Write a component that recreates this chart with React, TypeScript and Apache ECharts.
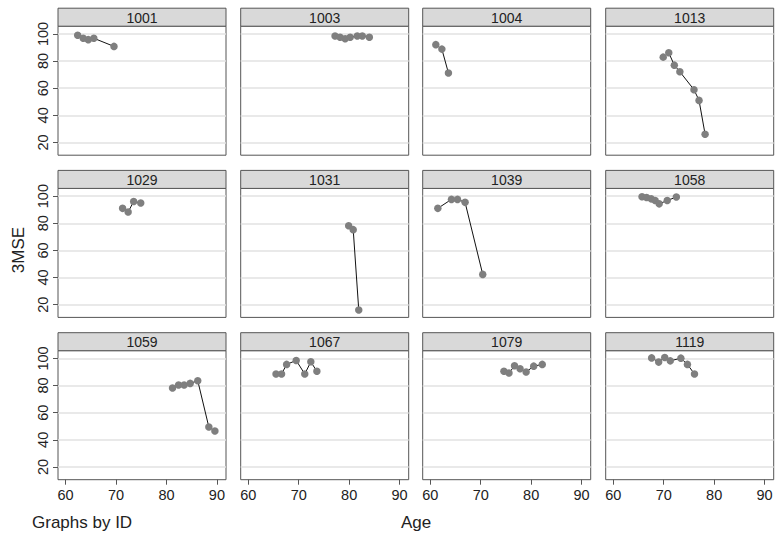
import React, { useEffect, useRef } from "react";
import * as echarts from "echarts";

const ids = ["1001", "1003", "1004", "1013", "1029", "1031", "1039", "1058", "1059", "1067", "1079", "1119"];

const age1001 = [62.4, 63.5, 64.5, 65.6, 69.6];
const mse1001 = [99, 96.8, 95.8, 96.8, 90.8];
const age1003 = [77.2, 78.2, 79.2, 80.2, 81.6, 82.6, 84];
const mse1003 = [98.5, 97.5, 96.5, 97.5, 98.5, 98.5, 97.5];
const age1004 = [61.1, 62.3, 63.6];
const mse1004 = [92.1, 88.8, 71.2];
const age1013 = [69.9, 71.0, 72.1, 73.2, 76.0, 77.0, 78.2];
const mse1013 = [82.9, 86.1, 77.0, 72.1, 58.9, 51.0, 26.1];
const age1029 = [71.3, 72.4, 73.5, 74.9];
const mse1029 = [91.0, 88.3, 96.1, 94.9];
const age1031 = [79.9, 80.8, 81.9];
const mse1031 = [78.2, 75.3, 16.1];
const age1039 = [61.5, 64.2, 65.4, 66.9, 70.4];
const mse1039 = [91.0, 97.6, 97.6, 95.4, 42.3];
const age1058 = [65.7, 66.6, 67.5, 68.3, 69.1, 70.7, 72.5];
const mse1058 = [99.5, 99.0, 98.0, 96.8, 94.3, 96.8, 99.3];
const age1059 = [81.2, 82.4, 83.5, 84.7, 86.2, 88.4, 89.6];
const mse1059 = [78.2, 80.4, 80.4, 81.6, 83.6, 49.4, 46.5];
const age1067 = [65.5, 66.6, 67.6, 69.5, 71.2, 72.4, 73.6];
const mse1067 = [88.5, 88.5, 95.6, 98.5, 88.5, 97.5, 90.5];
const age1079 = [74.6, 75.6, 76.7, 77.8, 79.0, 80.5, 82.2];
const mse1079 = [90.5, 89.2, 94.6, 92.4, 90.0, 94.3, 95.6];
const age1119 = [67.6, 69.0, 70.2, 71.3, 73.4, 74.7, 76.1];
const mse1119 = [100.4, 97.3, 100.7, 98.2, 100.2, 95.6, 88.5];

const ages = [age1001, age1003, age1004, age1013, age1029, age1031, age1039, age1058, age1059, age1067, age1079, age1119];
const mses = [mse1001, mse1003, mse1004, mse1013, mse1029, mse1031, mse1039, mse1058, mse1059, mse1067, mse1079, mse1119];

const xTicks = [60, 70, 80, 90];
const yTicks = [20, 40, 60, 80, 100];

const FONT = "'Liberation Sans', Arial, Helvetica, sans-serif";

export default function App() {
  const ref = useRef<HTMLDivElement>(null);

  useEffect(() => {
    if (!ref.current) return;
    const chart = echarts.init(ref.current, null, { renderer: "svg" });

    const colLefts = [58, 240.7, 422.7, 605.7];
    const rowTops = [26.2, 188.4, 350.7];
    const W = 168;
    const H = 129;
    const HEAD = 18;

    const grids: any[] = [];
    const xAxes: any[] = [];
    const yAxes: any[] = [];
    const series: any[] = [];
    const graphics: any[] = [];

    ids.forEach((id, i) => {
      const r = Math.floor(i / 4);
      const c = i % 4;
      const left = colLefts[c];
      const top = rowTops[r];
      grids.push({
        left,
        top,
        width: W,
        height: H,
        show: true,
        borderColor: "#555",
        borderWidth: 1,
        backgroundColor: "#fff",
      });
      const bottomRow = r === 2;
      const leftCol = c === 0;
      xAxes.push({
        gridIndex: i,
        type: "value",
        min: 58.5,
        max: 91.8,
        axisLine: { show: false },
        splitLine: { show: false },
        axisTick: {
          show: bottomRow,
          customValues: xTicks,
          length: 5,
          lineStyle: { color: "#555", width: 1 },
        },
        axisLabel: {
          show: bottomRow,
          customValues: xTicks,
          fontSize: 14.5,
          color: "#222",
          margin: 8,
          fontFamily: FONT,
        },
      });
      yAxes.push({
        gridIndex: i,
        type: "value",
        min: 10.6,
        max: 105.7,
        axisLine: { show: false },
        splitLine: { show: false },
        axisTick: {
          show: leftCol,
          customValues: yTicks,
          length: 5,
          lineStyle: { color: "#555", width: 1 },
        },
        axisLabel: {
          show: leftCol,
          customValues: yTicks,
          rotate: 90,
          fontSize: 14.5,
          color: "#222",
          margin: 8,
          fontFamily: FONT,
        },
      });
      series.push({
        type: "line",
        xAxisIndex: i,
        yAxisIndex: i,
        data: [],
        z: 1,
        silent: true,
        markLine: {
          z: 1,
          silent: true,
          symbol: ["none", "none"],
          label: { show: false },
          lineStyle: { color: "#e2e2e2", width: 1.5, type: "solid" },
          data: yTicks.map((v) => ({ yAxis: v })),
        },
      });
      series.push({
        type: "line",
        xAxisIndex: i,
        yAxisIndex: i,
        z: 6,
        data: ages[i].map((a, k) => [a, mses[i][k]]),
        symbol: "circle",
        symbolSize: 7.5,
        itemStyle: { color: "#7f7f7f" },
        lineStyle: { color: "#111", width: 1 },
      });
      graphics.push({
        type: "rect",
        shape: { x: left, y: top - HEAD, width: W, height: HEAD },
        style: { fill: "#d9d9d9", stroke: "#555", lineWidth: 1 },
        z: 10,
      });
      graphics.push({
        type: "text",
        x: left + W / 2,
        y: top - HEAD / 2 + 0.5,
        style: {
          text: id,
          textAlign: "center",
          textVerticalAlign: "middle",
          font: `14px ${FONT}`,
          fill: "#222",
        },
        z: 11,
      });
    });

    graphics.push({
      type: "text",
      x: 18,
      y: 250,
      rotation: Math.PI / 2,
      style: {
        text: "3MSE",
        textAlign: "center",
        textVerticalAlign: "middle",
        font: `17px ${FONT}`,
        fill: "#222",
      },
    });
    graphics.push({
      type: "text",
      x: 32,
      y: 522,
      style: {
        text: "Graphs by ID",
        textAlign: "left",
        textVerticalAlign: "middle",
        font: `17px ${FONT}`,
        fill: "#222",
      },
    });
    graphics.push({
      type: "text",
      x: 416,
      y: 522,
      style: {
        text: "Age",
        textAlign: "center",
        textVerticalAlign: "middle",
        font: `17px ${FONT}`,
        fill: "#222",
      },
    });

    chart.setOption({
      animation: false,
      backgroundColor: "#fff",
      grid: grids,
      xAxis: xAxes,
      yAxis: yAxes,
      series,
      graphic: graphics,
    });

    return () => chart.dispose();
  }, []);

  return (
    <div
      ref={ref}
      style={{ position: "fixed", left: 0, top: 0, width: 777, height: 538 }}
    />
  );
}
